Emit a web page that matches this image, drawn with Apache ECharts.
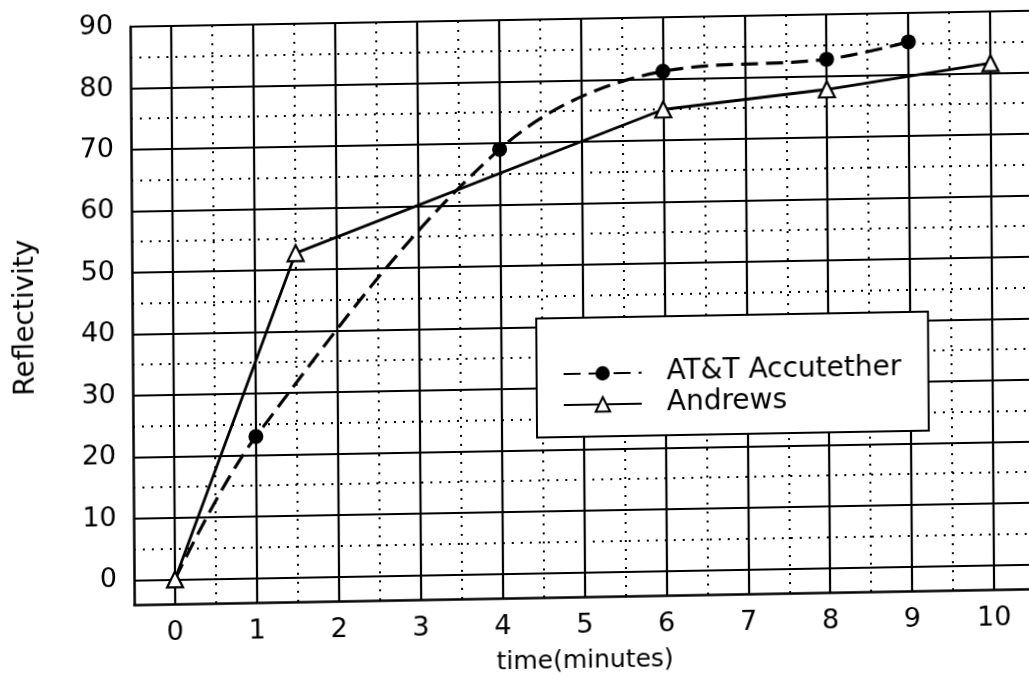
<!DOCTYPE html>
<html><head><meta charset="utf-8">
<script src="https://cdn.jsdelivr.net/npm/echarts@6/dist/echarts.min.js"></script>
<style>
html,body{margin:0;padding:0;background:#fff;overflow:hidden;}
#chart{width:1029px;height:684px;transform-origin:0 0;transform:matrix(1,-0.0177,0.007,1,0,0);}
</style></head><body><div id="chart"></div>
<script>
const seriesNames = ['AT&T Accutether', 'Andrews'];
const attTime = [0, 1, 4, 6, 8, 9];
const attReflectivity = [0, 23, 69, 81.2, 82.7, 85.3];
const andrewsTime = [0, 1.5, 6, 8, 10];
const andrewsReflectivity = [0, 52.7, 75, 77.8, 81.6];
const xTickLabels = [0, 1, 2, 3, 4, 5, 6, 7, 8, 9, 10];
const yTickLabels = [0, 10, 20, 30, 40, 50, 60, 70, 80, 90];
const xMinorGrid = [0.5, 1.5, 2.5, 3.5, 4.5, 5.5, 6.5, 7.5, 8.5, 9.5];
const yMinorGrid = [5, 15, 25, 35, 45, 55, 65, 75, 85];
const xTitle = 'time(minutes)';
const yTitle = 'Reflectivity';

const FONT = 'DejaVu Sans';
const near = (arr, v) => arr.some(t => Math.abs(t - v) < 1e-6);

const chart = echarts.init(document.getElementById('chart'), null, {renderer: 'canvas'});

const attData = attTime.map((t, i) => i === 0 ? {value: [t, attReflectivity[i]], symbol: 'none'} : [t, attReflectivity[i]]);
const andrewsData = andrewsTime.map((t, i) => [t, andrewsReflectivity[i]]);

const gridLineBase = {z: 1, symbol: ['none', 'none'], silent: true, animation: false, label: {show: false}, emphasis: {disabled: true}};

chart.setOption({
  animation: false,
  backgroundColor: '#fff',
  grid: {left: 130, top: 29, right: -2, bottom: 77, containLabel: false, outerBoundsMode: 'none'},
  xAxis: {
    type: 'value', min: -0.5, max: 10.5, interval: 0.5,
    name: xTitle, nameLocation: 'middle', nameGap: 52,
    nameTextStyle: {fontFamily: FONT, fontSize: 25, color: '#000'},
    axisLine: {show: true, onZero: false, lineStyle: {color: '#000', width: 2.5}},
    axisTick: {show: false},
    splitLine: {show: false},
    axisLabel: {margin: 15, fontFamily: FONT, fontSize: 27, color: '#000',
      formatter: v => near(xTickLabels, v) ? String(Math.round(v)) : ''}
  },
  yAxis: {
    type: 'value', min: -4, max: 90, interval: 2,
    name: yTitle, nameLocation: 'middle', nameGap: 92, nameRotate: 90,
    nameTextStyle: {fontFamily: FONT, fontSize: 28, color: '#000'},
    axisLine: {show: true, onZero: false, lineStyle: {color: '#000', width: 2.5}},
    axisTick: {show: false},
    splitLine: {show: false},
    axisLabel: {margin: 17, fontFamily: FONT, fontSize: 27, color: '#000',
      formatter: v => near(yTickLabels, v) ? String(Math.round(v)) : ''}
  },
  legend: {
    z: 20,
    orient: 'vertical', left: 534, top: 328,
    padding: [42, 27, 18, 26],
    borderColor: '#000', borderWidth: 2, backgroundColor: '#fff',
    itemWidth: 78, itemHeight: 18, itemGap: 3,
    data: seriesNames,
    textStyle: {fontFamily: FONT, fontSize: 28, color: '#000', padding: [0, 0, 0, 20]}
  },
  series: [
    {
      name: 'majorGrid', type: 'line', data: [], z: 1, silent: true,
      markLine: Object.assign({}, gridLineBase, {
        lineStyle: {color: '#000', width: 2.2, type: 'solid'},
        data: xTickLabels.map(v => ({xAxis: v})).concat(yTickLabels.map(v => ({yAxis: v})))
      })
    },
    {
      name: 'minorGrid', type: 'line', data: [], z: 1, silent: true,
      markLine: Object.assign({}, gridLineBase, {
        lineStyle: {color: '#000', width: 2, type: [2, 7]},
        data: xMinorGrid.map(v => ({xAxis: v})).concat(yMinorGrid.map(v => ({yAxis: v})))
      })
    },
    {
      name: seriesNames[0], type: 'line', data: attData, z: 5,
      smooth: 0.35,
      symbol: 'circle', symbolSize: 15,
      itemStyle: {color: '#000'},
      lineStyle: {color: '#000', width: 3.2, type: [17, 8]}
    },
    {
      name: seriesNames[1], type: 'line', data: andrewsData, z: 6,
      symbol: 'triangle', symbolSize: 16,
      itemStyle: {color: '#fff', borderColor: '#000', borderWidth: 2.2},
      lineStyle: {color: '#000', width: 2.8, type: 'solid'}
    }
  ]
});
</script></body></html>
